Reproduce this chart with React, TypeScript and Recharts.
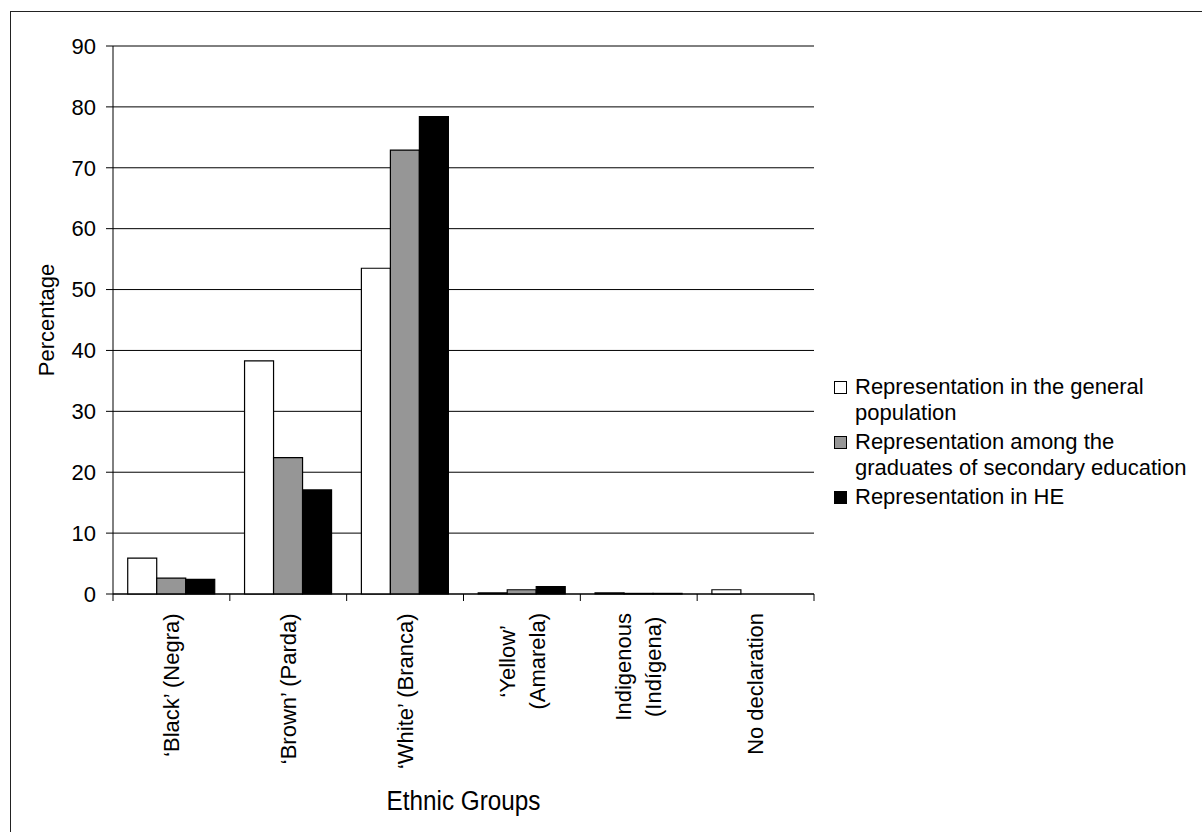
import { BarChart, Bar, XAxis, YAxis, CartesianGrid } from 'recharts';

const categories = [
  '‘Black’ (Negra)',
  '‘Brown’ (Parda)',
  '‘White’ (Branca)',
  '‘Yellow’\n(Amarela)',
  'Indigenous\n(Indígena)',
  'No declaration',
];
const generalPopulation = [5.9, 38.3, 53.5, 0.2, 0.2, 0.7];
const secondaryGraduates = [2.6, 22.4, 72.9, 0.7, 0.1, 0];
const higherEducation = [2.4, 17.1, 78.4, 1.2, 0.1, 0];
const yTicks = [0, 10, 20, 30, 40, 50, 60, 70, 80, 90];

const seriesInfo = [
  { key: 'general', name: 'Representation in the general population', fill: '#ffffff' },
  { key: 'secondary', name: 'Representation among the graduates of secondary education', fill: '#969696' },
  { key: 'he', name: 'Representation in HE', fill: '#000000' },
];

const data = categories.map((name, i) => ({
  name,
  general: generalPopulation[i],
  secondary: secondaryGraduates[i],
  he: higherEducation[i],
}));

const W = 1202;
const H = 832;
const PLOT_LEFT = 113;
const PLOT_RIGHT = 814;
const PLOT_TOP = 46;
const PLOT_BOTTOM = 594;
const BAND = (PLOT_RIGHT - PLOT_LEFT) / categories.length;
const FONT = '"Liberation Sans", Arial, sans-serif';
const FS = 22;

let ctx: CanvasRenderingContext2D | null = null;
const textWidth = (s: string) => {
  if (!ctx) {
    ctx = document.createElement('canvas').getContext('2d');
  }
  if (!ctx) return s.length * FS * 0.5;
  ctx.font = `${FS}px "Liberation Sans"`;
  return ctx.measureText(s).width;
};

// category labels rotated, tick marks sit on the category boundaries
const CategoryTick = (props: any) => {
  const { x, payload, index } = props;
  const lines = String(payload.value).split('\n');
  const maxLen = Math.max(...lines.map(textWidth));
  const cy = PLOT_BOTTOM + 19 + maxLen / 2;
  const lineGap = 30;
  return (
    <g>
      <line x1={x - BAND / 2} x2={x - BAND / 2} y1={PLOT_BOTTOM} y2={PLOT_BOTTOM + 7} stroke="#000" />
      {index === categories.length - 1 && (
        <line x1={x + BAND / 2} x2={x + BAND / 2} y1={PLOT_BOTTOM} y2={PLOT_BOTTOM + 7} stroke="#000" />
      )}
      {lines.map((ln, i) => {
        const lx = x + (i - (lines.length - 1) / 2) * lineGap;
        return (
          <text
            key={i}
            x={lx}
            y={cy}
            dy="0.35em"
            transform={`rotate(-90, ${lx}, ${cy})`}
            textAnchor="middle"
            fontFamily={FONT}
            fontSize={FS}
            fill="#000"
          >
            {ln}
          </text>
        );
      })}
    </g>
  );
};

const App = () => {
  const cx = (PLOT_LEFT + PLOT_RIGHT) / 2;
  return (
    <div style={{ position: 'absolute', left: 0, top: 0, width: W, height: H, overflow: 'hidden', background: '#fff' }}>
      <div
        style={{
          position: 'absolute',
          left: 10,
          top: 11,
          width: 1300,
          height: 900,
          border: '1px solid #222',
          boxSizing: 'border-box',
        }}
      />
      <div style={{ position: 'absolute', left: 0, top: 0 }}>
        <BarChart
          width={W}
          height={H}
          data={data}
          margin={{ top: PLOT_TOP, right: W - PLOT_RIGHT, left: 0, bottom: 0 }}
          barCategoryGap="12.6%"
          barGap={0}
        >
          <CartesianGrid vertical={false} stroke="#000" strokeWidth={1} />
          <XAxis
            dataKey="name"
            interval={0}
            height={H - PLOT_BOTTOM}
            axisLine={{ stroke: '#000' }}
            tickLine={false}
            tick={<CategoryTick />}
            label={{
              content: () => (
                <text
                  x={0}
                  y={0}
                  transform={`translate(${cx}, 810) scale(0.9, 1)`}
                  textAnchor="middle"
                  fontFamily={FONT}
                  fontSize={27}
                  fill="#000"
                >
                  Ethnic Groups
                </text>
              ),
            }}
          />
          <YAxis
            width={PLOT_LEFT}
            domain={[0, 90]}
            ticks={yTicks}
            interval={0}
            axisLine={{ stroke: '#000' }}
            tickLine={{ stroke: '#000' }}
            tickSize={7}
            tickMargin={10}
            tick={{ fontFamily: FONT, fontSize: FS, fill: '#000' }}
            label={{
              content: () => (
                <text x={46} y={320} dy="0.35em" transform="rotate(-90, 46, 320)" textAnchor="middle" fontFamily={FONT} fontSize={FS} fill="#000">
                  Percentage
                </text>
              ),
            }}
          />
          {seriesInfo.map((s) => (
            <Bar key={s.key} dataKey={s.key} name={s.name} fill={s.fill} stroke="#000" strokeWidth={1.2} isAnimationActive={false} />
          ))}
        </BarChart>
      </div>
      <div style={{ position: 'absolute', left: 834, top: 374, width: 360, fontFamily: FONT, fontSize: FS, lineHeight: '26px', color: '#000' }}>
        {seriesInfo.map((s) => (
          <div key={s.key} style={{ display: 'flex', alignItems: 'flex-start', marginBottom: 3 }}>
            <div
              style={{
                width: 13,
                height: 13,
                marginTop: 7,
                marginRight: 8,
                flex: '0 0 auto',
                background: s.fill,
                border: '1px solid #000',
                boxSizing: 'border-box',
              }}
            />
            <div style={{ width: 337 }}>{s.name}</div>
          </div>
        ))}
      </div>
    </div>
  );
};

export default App;
